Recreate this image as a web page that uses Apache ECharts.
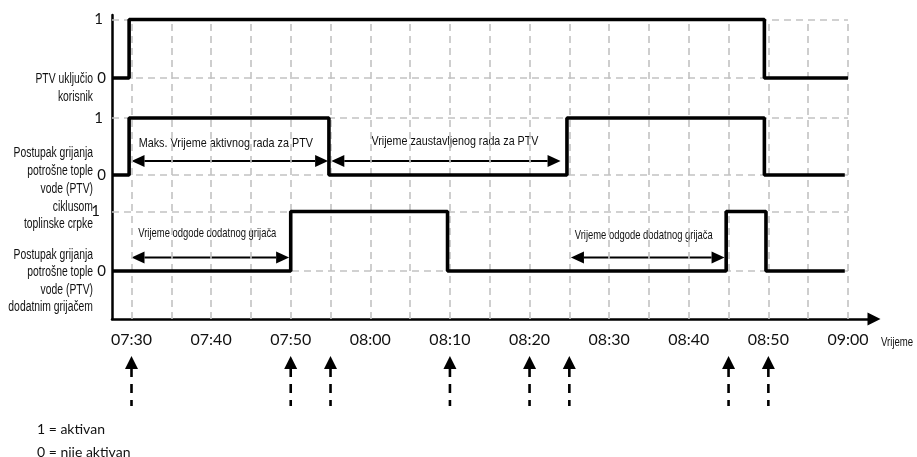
<!DOCTYPE html>
<html>
<head>
    <meta charset="utf-8">
    <title>PTV</title>
    <script src="https://cdn.jsdelivr.net/npm/echarts@6/dist/echarts.min.js"></script>
</head>
<body style="margin:0">
    <div id="chart" style="width: 917px;height:457px;"></div>
    <script type="text/javascript">
        // times are minutes after midnight (450 = 07:30)
        var tickLabels = ['07:30', '07:40', '07:50', '08:00', '08:10', '08:20', '08:30', '08:40', '08:50', '09:00'];

        var userTimes = [447.55, 449.7, 529.5, 540];
        var userLevels = [0, 1, 0, 0];

        var pumpTimes = [447.55, 449.7, 474.8, 504.7, 529.5, 539.6];
        var pumpLevels = [0, 1, 0, 1, 0, 0];

        var heaterTimes = [447.55, 470, 489.7, 524.7, 529.7, 539.6];
        var heaterLevels = [0, 1, 0, 1, 0, 0];

        var spanFrom = [450, 475.1, 450, 505.2];
        var spanTo = [474.7, 503.9, 469.8, 524.5];
        var spanText = ['Maks. Vrijeme aktivnog rada za PTV', 'Vrijeme zaustavljenog rada za PTV',
            'Vrijeme odgode dodatnog grijača', 'Vrijeme odgode dodatnog grijača'];
        var spanLane = [1, 1, 2, 2];

        var eventTimes = [450, 470, 475, 490, 500, 505, 525, 530];

        // lane layout on the y scale (0..304 from the time axis up)
        var laneLow = [241, 144, 48];
        var laneHigh = [299.5, 201, 107.5];
        var spanY = [0, 158, 61.5];
        var spanTextGap = [18, 20, 24.5, 22.5];
        var spanTextShift = [-4, 9, -3, -4];
        var spanTextSize = [13.5, 13.4, 13.2, 13.2];
        var spanSqueeze = [0.8, 0.8, 0.715, 0.715];

        var sans = '"Liberation Sans", Arial, sans-serif';
        var round = 'Lato, "Noto Sans", sans-serif';

        function toMin(s) {
            var p = s.split(':');
            return +p[0] * 60 + +p[1];
        }
        function fmt(v) {
            var h = Math.floor(v / 60), m = Math.round(v % 60);
            return (h < 10 ? '0' : '') + h + ':' + (m < 10 ? '0' : '') + m;
        }
        function lane(i, times, levels) {
            return times.map(function (t, k) {
                return [t, levels[k] ? laneHigh[i] : laneLow[i]];
            });
        }
        function narrowText(x, y, text, size, align, lh, sq) {
            return {
                type: 'text', x: x, y: y, scaleX: sq || 0.8,
                style: { text: text, font: size + 'px ' + sans, align: align, verticalAlign: 'middle', lineHeight: lh || size, fill: '#111' }
            };
        }

        var tickValues = tickLabels.map(toMin);
        var xMin = 447.55, xMax = 543.27, yTop = 298;

        var gridData = [];
        for (var t = tickValues[0]; t <= tickValues[tickValues.length - 1]; t += 5) {
            gridData.push([{ coord: [t, 0] }, { coord: [t, yTop] }]);
        }
        var levelDist = [[9, 6], [9, 6], [12, 6]];
        for (var i = 0; i < 3; i++) {
            gridData.push([{ coord: [xMin, laneHigh[i]], label: { show: true, formatter: '1', distance: levelDist[i][0] } }, { coord: [540, laneHigh[i]] }]);
            gridData.push([{ coord: [xMin, laneLow[i]], label: { show: true, formatter: '0', distance: levelDist[i][1] } }, { coord: [540, laneLow[i]] }]);
        }

        var signalStyle = { color: '#000', width: 3.6 };
        function signal(name, data) {
            return {
                name: name, type: 'line', step: 'end', symbol: 'none', z: 5,
                lineStyle: signalStyle, data: data, animation: false
            };
        }

        var chart = echarts.init(document.getElementById('chart'));
        var option = {
            animation: false,
            grid: { left: 112, right: 43, top: 15, bottom: 138 },
            xAxis: {
                type: 'value', min: xMin, max: xMax,
                axisLine: { lineStyle: { color: '#000', width: 2.5 }, symbol: ['none', 'triangle'], symbolSize: [13, 13] },
                axisTick: { show: false },
                splitLine: { show: false },
                axisLabel: { customValues: tickValues, formatter: fmt, color: '#111', fontSize: 16, fontFamily: round, margin: 13 }
            },
            yAxis: {
                type: 'value', min: 0, max: 304,
                axisLine: { show: true, lineStyle: { color: '#000', width: 2.5 } },
                axisTick: { show: false }, axisLabel: { show: false }, splitLine: { show: false }
            },
            graphic: [
                narrowText(93, 88, 'PTV uključio\nkorisnik', 14, 'right', 17.5, 0.74),
                narrowText(93, 189, 'Postupak grijanja\npotrošne tople\nvode (PTV)\nciklusom\ntoplinske crpke', 14, 'right', 17.7, 0.74),
                narrowText(93, 281, 'Postupak grijanja\npotrošne tople\nvode (PTV)\ndodatnim grijačem', 14, 'right', 17.5, 0.74),
                narrowText(881, 343, 'Vrijeme', 12, 'left'),
                { type: 'text', x: 37, y: 429, style: { text: '1 = aktivan', font: '14px ' + round, align: 'left', verticalAlign: 'middle', fill: '#111' } },
                { type: 'text', x: 37, y: 452, style: { text: '0 = nije aktivan', font: '14px ' + round, align: 'left', verticalAlign: 'middle', fill: '#111' } }
            ],
            series: [
                {
                    name: 'grid', type: 'line', data: [], z: 1,
                    markLine: {
                        silent: true, symbol: 'none', animation: false,
                        lineStyle: { color: '#c2c2c2', width: 1.6, type: [7, 5] },
                        label: { show: false, position: 'start', color: '#111', fontSize: 15, fontFamily: round },
                        data: gridData
                    }
                },
                signal('PTV uključio korisnik', lane(0, userTimes, userLevels)),
                signal('ciklusom toplinske crpke', lane(1, pumpTimes, pumpLevels)),
                signal('dodatnim grijačem', lane(2, heaterTimes, heaterLevels)),
                {
                    name: 'spans', type: 'custom', clip: false, z: 4,
                    data: spanFrom.map(function (f, k) { return [f, spanY[spanLane[k]], spanTo[k], k]; }),
                    renderItem: function (params, api) {
                        var k = api.value(3);
                        var a = api.coord([api.value(0), api.value(1)]);
                        var b = api.coord([api.value(2), api.value(1)]);
                        var y = a[1], L = 13, W = 6;
                        return {
                            type: 'group',
                            children: [
                                { type: 'line', shape: { x1: a[0] + L, y1: y, x2: b[0] - L, y2: y }, style: { stroke: '#000', lineWidth: 1.8 } },
                                { type: 'polygon', shape: { points: [[a[0], y], [a[0] + L, y - W], [a[0] + L, y + W]] }, style: { fill: '#000' } },
                                { type: 'polygon', shape: { points: [[b[0], y], [b[0] - L, y - W], [b[0] - L, y + W]] }, style: { fill: '#000' } },
                                narrowText((a[0] + b[0]) / 2 + spanTextShift[k], y - spanTextGap[k], spanText[k], spanTextSize[k], 'center', null, spanSqueeze[k])
                            ]
                        };
                    }
                },
                {
                    name: 'events', type: 'custom', clip: false, z: 4,
                    data: eventTimes.map(function (t) { return [t, 0]; }),
                    renderItem: function (params, api) {
                        var p = api.coord([api.value(0), 0]);
                        var x = p[0], y = p[1];
                        return {
                            type: 'group',
                            children: [
                                { type: 'polygon', shape: { points: [[x, y + 37], [x - 6.5, y + 50], [x + 6.5, y + 50]] }, style: { fill: '#000' } },
                                { type: 'line', shape: { x1: x, y1: y + 49, x2: x, y2: y + 87 }, style: { stroke: '#000', lineWidth: 2.6, lineDash: [9, 7] } }
                            ]
                        };
                    }
                }
            ]
        };
        chart.setOption(option);
    </script>
</body>
</html>
